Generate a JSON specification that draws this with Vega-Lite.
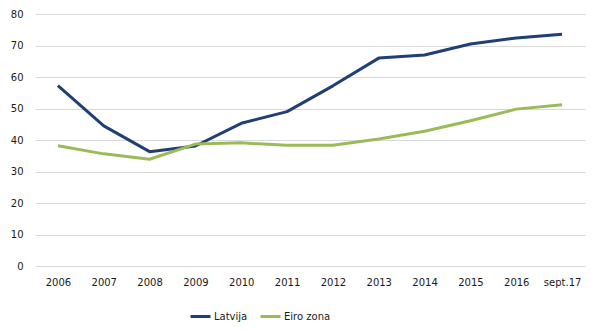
{
  "$schema": "https://vega.github.io/schema/vega-lite/v6.json",
  "autosize": {"type": "none"},
  "width": 550,
  "height": 252,
  "padding": {"left": 35, "top": 14, "right": 14, "bottom": 65},
  "background": "white",
  "data": {"values": [
    {"year": "2006", "series": "Latvija", "value": 57.3},
    {"year": "2007", "series": "Latvija", "value": 44.5},
    {"year": "2008", "series": "Latvija", "value": 36.3},
    {"year": "2009", "series": "Latvija", "value": 38.1},
    {"year": "2010", "series": "Latvija", "value": 45.3},
    {"year": "2011", "series": "Latvija", "value": 49.0},
    {"year": "2012", "series": "Latvija", "value": 57.2},
    {"year": "2013", "series": "Latvija", "value": 66.0},
    {"year": "2014", "series": "Latvija", "value": 67.0},
    {"year": "2015", "series": "Latvija", "value": 70.5},
    {"year": "2016", "series": "Latvija", "value": 72.4},
    {"year": "sept.17", "series": "Latvija", "value": 73.6},
    {"year": "2006", "series": "Eiro zona", "value": 38.2},
    {"year": "2007", "series": "Eiro zona", "value": 35.6},
    {"year": "2008", "series": "Eiro zona", "value": 33.9},
    {"year": "2009", "series": "Eiro zona", "value": 38.7},
    {"year": "2010", "series": "Eiro zona", "value": 39.1},
    {"year": "2011", "series": "Eiro zona", "value": 38.3},
    {"year": "2012", "series": "Eiro zona", "value": 38.3},
    {"year": "2013", "series": "Eiro zona", "value": 40.3},
    {"year": "2014", "series": "Eiro zona", "value": 42.8},
    {"year": "2015", "series": "Eiro zona", "value": 46.1},
    {"year": "2016", "series": "Eiro zona", "value": 49.8},
    {"year": "sept.17", "series": "Eiro zona", "value": 51.2}
  ]},
  "mark": {"type": "line", "strokeWidth": 3, "strokeJoin": "round"},
  "encoding": {
    "x": {
      "field": "year", "type": "ordinal", "sort": null,
      "scale": {"type": "point", "padding": 0.5},
      "axis": {"title": null, "labelAngle": 0, "domain": false, "ticks": false, "grid": false, "labelPadding": 11}
    },
    "y": {
      "field": "value", "type": "quantitative",
      "scale": {"domain": [0, 80], "nice": false},
      "axis": {"title": null, "values": [0,10,20,30,40,50,60,70,80], "domain": false, "ticks": false, "grid": true, "gridColor": "#d9d9d9", "gridWidth": 1, "labelPadding": 12}
    },
    "color": {
      "field": "series", "type": "nominal",
      "scale": {"domain": ["Latvija", "Eiro zona"], "range": ["#1F3F76", "#9BBB59"]},
      "legend": {
        "title": null, "orient": "none", "direction": "horizontal",
        "legendX": 154, "legendY": 291,
        "symbolType": "stroke", "symbolStrokeWidth": 3, "symbolSize": 400,
        "labelOffset": 2, "columnPadding": 6, "labelLimit": 100
      }
    }
  },
  "config": {
    "view": {"stroke": null},
    "font": "DejaVu Sans",
    "axis": {"labelFont": "DejaVu Sans", "labelFontSize": 10, "labelColor": "#1a1a1a"},
    "legend": {"labelFont": "DejaVu Sans", "labelFontSize": 10, "labelColor": "#1a1a1a", "gridAlign": "none"}
  }
}
